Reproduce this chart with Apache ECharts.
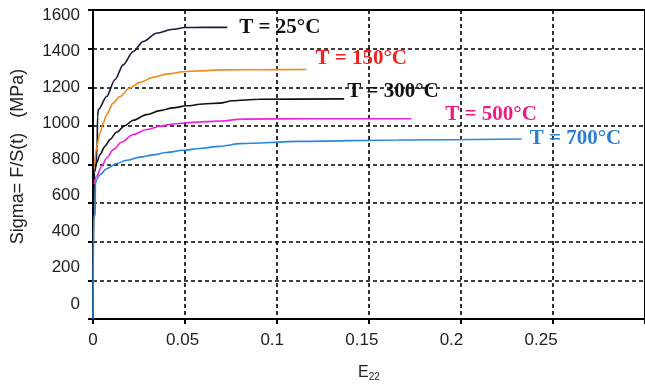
<!DOCTYPE html>
<html>
<head>
<meta charset="utf-8">
<script src="https://cdn.jsdelivr.net/npm/echarts@6/dist/echarts.min.js"></script>
<style>
  html, body { margin: 0; padding: 0; background: #fff; }
  #chart { width: 645px; height: 387px; }
</style>
</head>
<body>
<div id="chart"></div>
<script>
// tick labels
const xTicks = [0, 0.05, 0.1, 0.15, 0.2, 0.25]
const yTicks = [0, 200, 400, 600, 800, 1000, 1200, 1400, 1600]

// curve labels
const names = ['T = 25°C', 'T = 150°C', 'T = 300°C', 'T = 500°C', 'T = 700°C']

// T = 25°C
const strain25 = [0.0008, 0.0015, 0.0022, 0.0025, 0.0029, 0.0074, 0.0119, 0.0164, 0.0218, 0.0273, 0.0345, 0.0435, 0.0498, 0.06, 0.073]
const stress25 = [790, 800, 880, 1050, 1084, 1152, 1239, 1316, 1385, 1437, 1480, 1500, 1509, 1510, 1510]
// T = 150°C
const strain150 = [0.0008, 0.002, 0.0038, 0.0056, 0.0074, 0.011, 0.0146, 0.02, 0.0255, 0.0327, 0.0399, 0.049, 0.058, 0.0688, 0.09, 0.116]
const stress150 = [790, 894, 963, 1015, 1058, 1118, 1152, 1196, 1225, 1251, 1268, 1280, 1285, 1290, 1291, 1292]
// T = 300°C
const strain300 = [0, 0.0008, 0.002, 0.0038, 0.0065, 0.0092, 0.0128, 0.0173, 0.0218, 0.0291, 0.0363, 0.0435, 0.0507, 0.0598, 0.0688, 0.0758, 0.09, 0.1365]
const stress300 = [220, 760, 809, 852, 894, 929, 967, 1001, 1029, 1058, 1079, 1093, 1104, 1113, 1118, 1130, 1138, 1140]
// T = 500°C
const strain500 = [0.0006, 0.002, 0.0047, 0.0074, 0.011, 0.0155, 0.0218, 0.0291, 0.0363, 0.0435, 0.0525, 0.0616, 0.0688, 0.081, 0.12, 0.173]
const stress500 = [700, 740, 791, 834, 877, 915, 955, 981, 998, 1010, 1017, 1022, 1025, 1035, 1037, 1037]
// T = 700°C
const strain700 = [0, 0.0003, 0.0012, 0.0013, 0.002, 0.0038, 0.0074, 0.0128, 0.0182, 0.0255, 0.0327, 0.0399, 0.049, 0.058, 0.0688, 0.08, 0.112, 0.166, 0.233]
const stress700 = [0, 530, 535, 700, 723, 748, 778, 805, 822, 838, 850, 862, 874, 883, 894, 908, 920, 927, 932]

const LINE_COLORS = ['#1a1a38', '#f28a1a', '#111111', '#ee22dd', '#2a86e0']
const TEXT_COLORS = ['#111111', '#ee2222', '#111111', '#ee1a80', '#2a7fd4']
const LABEL_OFFSETS = [[12, 0], [9, -11], [3, -7], [34, -4], [8, 0]]

const curves = [
  [strain25, stress25],
  [strain150, stress150],
  [strain300, stress300],
  [strain500, stress500],
  [strain700, stress700]
]

const chart = echarts.init(document.getElementById('chart'))

const series = curves.map(([xs, ys], i) => ({
  name: names[i],
  type: 'line',
  xAxisIndex: 0,
  yAxisIndex: 0,
  data: xs.map((x, k) => [x, ys[k]]),
  showSymbol: false,
  symbol: 'none',
  smooth: 0.3,
  smoothMonotone: 'x',
  lineStyle: { color: LINE_COLORS[i], width: 1.6 },
  endLabel: {
    show: true,
    formatter: names[i],
    distance: 0,
    offset: LABEL_OFFSETS[i],
    color: TEXT_COLORS[i],
    fontFamily: 'Liberation Serif',
    fontWeight: 'bold',
    fontSize: 21
  }
}))

const option = {
  animation: false,
  backgroundColor: '#fff',
  grid: {
    left: 93,
    top: 10,
    right: -2,
    bottom: 67,
    show: true,
    borderColor: '#000',
    borderWidth: 2
  },
  xAxis: [
    {
      type: 'value',
      min: 0,
      max: 0.3,
      interval: 0.05,
      axisLine: { show: true, lineStyle: { color: '#000', width: 2 } },
      axisTick: { show: true, length: 5, lineStyle: { color: '#000', width: 2 } },
      axisLabel: { show: false },
      splitLine: { show: true, lineStyle: { color: '#000', type: [4, 3], width: 1.6 } }
    },
    {
      type: 'value',
      position: 'bottom',
      min: 0,
      max: 0.308,
      axisLine: { show: false },
      axisTick: { show: false },
      splitLine: { show: false },
      axisLabel: {
        customValues: xTicks,
        margin: 13,
        color: '#222',
        fontFamily: 'Liberation Sans',
        fontSize: 17,
        formatter: (v) => String(v)
      },
      name: '{e|E}{s|22}',
      nameLocation: 'middle',
      nameGap: 44,
      nameTextStyle: {
        rich: {
          e: { fontSize: 16, color: '#222', fontFamily: 'Liberation Sans' },
          s: { fontSize: 10, color: '#222', fontFamily: 'Liberation Sans', padding: [9, 0, 0, 0] }
        }
      }
    }
  ],
  yAxis: [
    {
      type: 'value',
      min: 0,
      max: 1600,
      interval: 200,
      axisLine: { show: true, lineStyle: { color: '#000', width: 2 } },
      axisTick: { show: true, length: 5, lineStyle: { color: '#000', width: 2 } },
      axisLabel: { show: false },
      splitLine: { show: true, lineStyle: { color: '#000', type: [4, 3], width: 1.6 } }
    },
    {
      type: 'value',
      position: 'left',
      min: -84,
      max: 1630,
      axisLine: { show: false },
      axisTick: { show: false },
      splitLine: { show: false },
      axisLabel: {
        customValues: yTicks,
        margin: 13,
        color: '#222',
        fontFamily: 'Liberation Sans',
        fontSize: 17,
        formatter: (v) => String(v)
      },
      name: 'Sigma= F/S(t)   (MPa)',
      nameLocation: 'middle',
      nameGap: 66,
      nameRotate: 90,
      nameTextStyle: {
        color: '#222',
        fontFamily: 'Liberation Sans',
        fontSize: 18,
        padding: [0, 0, 0, 16]
      }
    }
  ],
  series
}

chart.setOption(option)
</script>
</body>
</html>
